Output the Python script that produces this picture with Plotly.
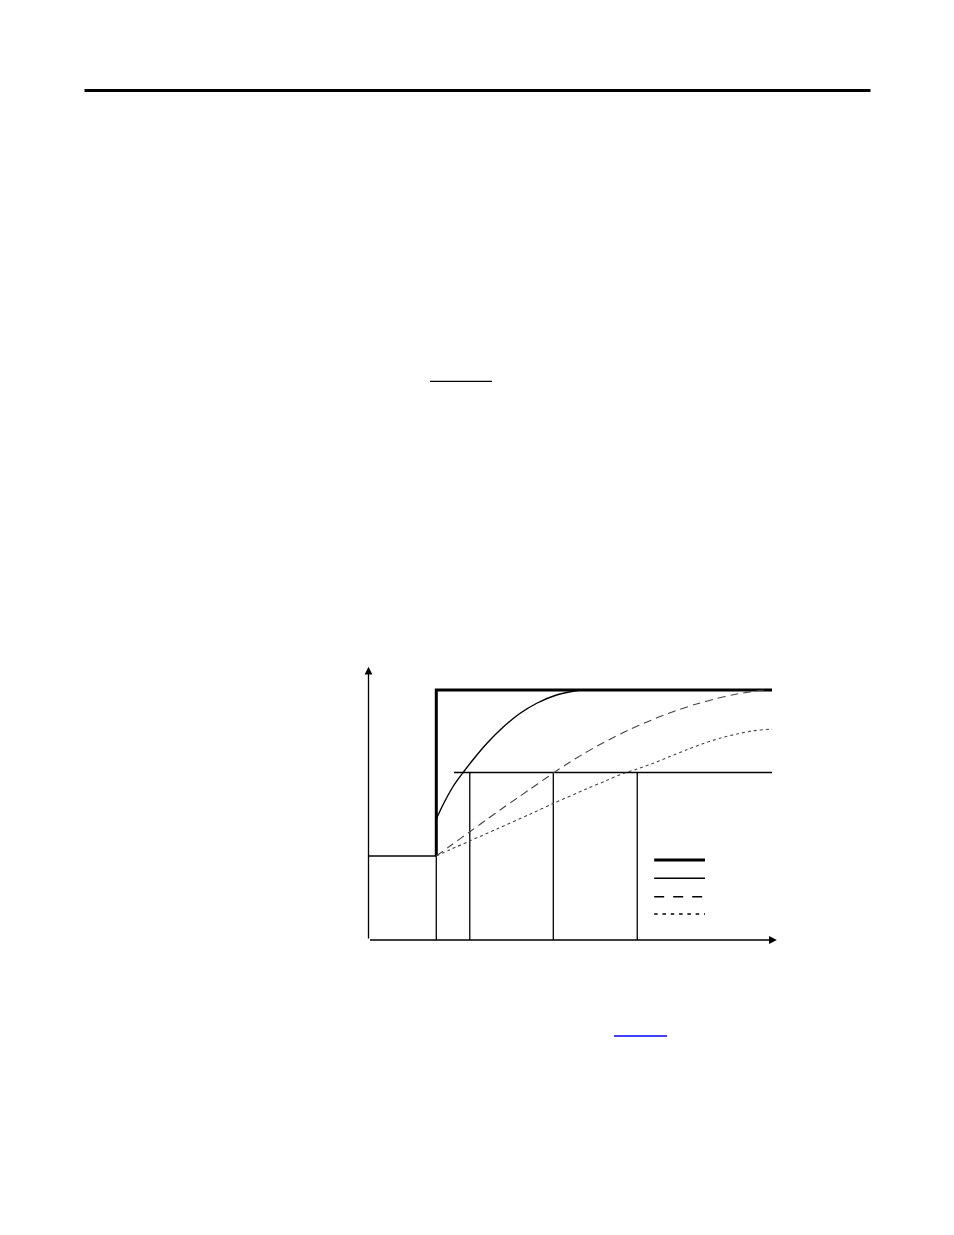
import plotly.graph_objects as go

# step response diagram: time (arbitrary units) vs output (% of final value)
t_step = 16.8
y_start = 33.6
y_final = 100.0
y_level = 67.0
t_end = 100.0

# fast response (solid)
fast_t = [16.8, 18.5, 21.0, 23.5, 26.0, 29.3, 33.4, 37.5, 41.7, 46.6, 52.4]
fast_y = [48.4, 54.2, 61.5, 67.1, 72.3, 78.6, 85.2, 90.6, 94.7, 98.0, 100.0]

# medium response (dashed)
mid_t = [16.8, 20.2, 25.2, 29.3, 32.6, 36.7, 40.0, 44.2, 45.8, 49.1, 53.2, 56.6,
         60.7, 64.9, 69.0, 73.1, 77.2, 81.3, 86.3, 90.4, 95.4, 98.0]
mid_y = [33.6, 37.6, 43.4, 48.2, 52.0, 56.6, 60.3, 65.0, 66.8, 70.3, 74.4, 77.5,
         81.0, 84.3, 87.2, 89.9, 92.3, 94.4, 96.6, 98.1, 99.5, 100.0]

# slow response (dotted)
slow_t = [16.8, 20.2, 25.2, 31.8, 40.0, 45.8, 54.1, 59.0, 63.1, 66.6, 70.6, 74.7,
          78.9, 83.0, 87.1, 91.3, 95.4, 99.5, 100.0]
slow_y = [33.6, 36.1, 39.7, 44.4, 50.3, 54.6, 60.5, 63.8, 66.6, 68.4, 70.7, 73.4,
          76.1, 78.6, 80.7, 82.4, 83.7, 84.3, 84.3]

# times where the level line is reached
marker_t = [25.1, 45.8, 66.6]
level_t0 = 21.2

# legend sample rows
legend_t = [70.8, 83.4]
legend_y = [32.0, 24.7, 17.3, 10.4]

# the page body adds an 8px margin, so the figure is 16px smaller
# and every pixel position is moved 8px up/left
OFF = 8
W, H = 954 - 2 * OFF, 1235 - 2 * OFF
X0, Y0 = 368.5 - OFF, 940.0 - OFF    # pixel position of the origin
SX, SY = 4.035, 2.5                  # pixels per unit

thin = dict(color='black', width=1.3)

fig = go.Figure()


def line(x, y, **kw):
    fig.add_trace(go.Scatter(x=x, y=y, mode='lines', hoverinfo='skip',
                             showlegend=False, **kw))


# input step
line([0, t_step], [y_start, y_start], line=thin)
line([t_step, t_step], [0, y_start], line=thin)
line([t_step, t_step, t_end], [y_start, y_final, y_final], line=dict(color='black', width=3))

# level line and verticals
line([level_t0, t_end], [y_level, y_level], line=thin)
for t in marker_t:
    line([t, t], [0, y_level], line=thin)

# responses
line(fast_t, fast_y, line=dict(color='black', width=1.4, shape='spline', smoothing=0.8))
line(mid_t, mid_y, line=dict(color='#444', width=1.1, dash='8px,5px', shape='spline', smoothing=0.8))
line(slow_t, slow_y, line=dict(color='#444', width=1.1, dash='3px,3px', shape='spline', smoothing=0.8))

# legend samples
line(legend_t, [legend_y[0]] * 2, line=dict(color='black', width=3))
line(legend_t, [legend_y[1]] * 2, line=dict(color='black', width=1.4))
line(legend_t, [legend_y[2]] * 2, line=dict(color='black', width=1.4, dash='10px,9px'))
line(legend_t, [legend_y[3]] * 2, line=dict(color='black', width=1.4, dash='3.5px,4.8px'))

# axes with arrows
for tip, tail in [((0, 109.3), (0, 0)), ((101.2, 0), (0, 0))]:
    fig.add_annotation(x=tip[0], y=tip[1], ax=tail[0], ay=tail[1], xref='x', yref='y',
                       axref='x', ayref='y', text='', showarrow=True, arrowhead=2,
                       arrowsize=1.2, arrowwidth=1.3, arrowcolor='black')


def px_line(x0, x1, y, width, color='black'):
    x0, x1, y = x0 - OFF, x1 - OFF, y - OFF
    fig.add_shape(type='line', xref='paper', yref='paper', x0=x0 / W, x1=x1 / W,
                  y0=1 - y / H, y1=1 - y / H, line=dict(color=color, width=width))


# page decorations
px_line(84.5, 870.5, 90.5, 3)
px_line(430, 492, 381.3, 1.3)
px_line(614, 667, 1036, 1.3, color='blue')

fig.update_xaxes(range=[-X0 / SX, (W - X0) / SX], visible=False, fixedrange=True)
fig.update_yaxes(range=[(Y0 - H) / SY, Y0 / SY], visible=False, fixedrange=True)
fig.update_layout(width=W, height=H, margin=dict(l=0, r=0, t=0, b=0),
                  plot_bgcolor='white', paper_bgcolor='white', showlegend=False)

fig.write_html("out.html")
